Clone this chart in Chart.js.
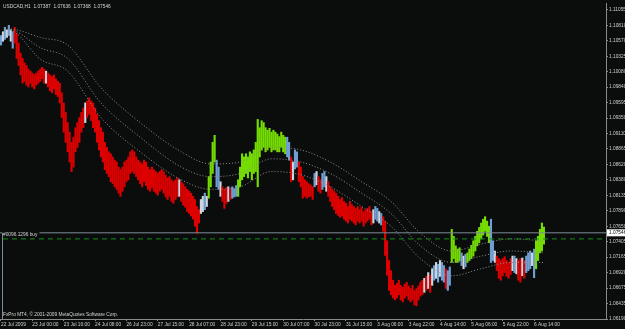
<!DOCTYPE html>
<html>
<head>
<meta charset="utf-8">
<script src="https://cdn.jsdelivr.net/npm/chart.js@4.4.1/dist/chart.umd.min.js"></script>
<style>
  html, body { margin: 0; padding: 0; background: #0b0d0d; }
  #wrap { width: 625px; height: 329px; }
</style>
</head>
<body>
<div id="wrap"><canvas id="chart" width="625" height="329"></canvas></div>
<script>
// USDCAD H1, 22 Jul - 6 Aug 2009 (FxPro MT4 screenshot)
const symbol = 'USDCAD,H1';
const lastOHLC = ['1.07387', '1.07636', '1.07368', '1.07546'];
const bidPrice = 1.07546;
const orderPrice = 1.0745;
const orderLabel = '#0096.1296 buy';
const copyright = 'FxPro MT4, \u00a9 2001-2009 MetaQuotes Software Corp.';

// one time label every 16 bars
const timeLabels = ['22 Jul 2009', '23 Jul 00:00', '23 Jul 16:00', '24 Jul 08:00', '26 Jul 23:00',
  '27 Jul 15:00', '28 Jul 07:00', '28 Jul 23:00', '29 Jul 15:00', '30 Jul 07:00', '30 Jul 23:00',
  '31 Jul 15:00', '3 Aug 06:00', '3 Aug 22:00', '4 Aug 14:00', '5 Aug 06:00', '5 Aug 22:00', '6 Aug 14:00'];

const priceLabels = ['1.11055', '1.10810', '1.10570', '1.10325', '1.10080', '1.09840', '1.09595',
  '1.09350', '1.09110', '1.08865', '1.08620', '1.08380', '1.08135', '1.07890', '1.07650', '1.07405',
  '1.07165', '1.06920', '1.06675', '1.06435', '1.06190'];

const highs = [
  1.1065, 1.1071, 1.1078, 1.1074, 1.1081, 1.1074, 1.1071, 1.1078, 1.1068, 1.1053,
  1.1037, 1.1029, 1.1022, 1.1018, 1.1012, 1.1009, 1.1006, 1.1003, 1.1006, 1.1009,
  1.1012, 1.1015, 1.1012, 1.1009, 1.1006, 1.1003, 1.1000, 1.1003, 1.0997, 1.0993,
  1.0990, 1.0975, 1.0959, 1.0944, 1.0928, 1.0913, 1.0897, 1.0905, 1.0920, 1.0928,
  1.0936, 1.0944, 1.0951, 1.0959, 1.0962, 1.0967, 1.0962, 1.0959, 1.0951, 1.0941,
  1.0931, 1.0920, 1.0913, 1.0897, 1.0889, 1.0882, 1.0879, 1.0874, 1.0869, 1.0866,
  1.0858, 1.0854, 1.0858, 1.0866, 1.0869, 1.0874, 1.0882, 1.0885, 1.0882, 1.0874,
  1.0869, 1.0866, 1.0863, 1.0869, 1.0866, 1.0858, 1.0854, 1.0858, 1.0854, 1.0851,
  1.0848, 1.0851, 1.0854, 1.0851, 1.0845, 1.0841, 1.0843, 1.0838, 1.0835, 1.0838,
  1.0841, 1.0838, 1.0835, 1.0832, 1.0827, 1.0823, 1.0820, 1.0817, 1.0812, 1.0807,
  1.0796, 1.0791, 1.0807, 1.0812, 1.0817, 1.0812, 1.0843, 1.0866, 1.0897, 1.0908,
  1.0869, 1.0858, 1.0835, 1.0827, 1.0823, 1.0826, 1.0827, 1.0824, 1.0827, 1.0824,
  1.0829, 1.0838, 1.0858, 1.0879, 1.0874, 1.0879, 1.0874, 1.0882, 1.0879, 1.0885,
  1.0897, 1.0933, 1.0920, 1.0931, 1.0928, 1.0920, 1.0916, 1.0919, 1.0913, 1.0916,
  1.0913, 1.0910, 1.0906, 1.0913, 1.0908, 1.0905, 1.0905, 1.0897, 1.0874, 1.0866,
  1.0885, 1.0882, 1.0866, 1.0858, 1.0843, 1.0838, 1.0835, 1.0832, 1.0830, 1.0827,
  1.0848, 1.0851, 1.0843, 1.0838, 1.0848, 1.0851, 1.0843, 1.0835, 1.0827, 1.0823,
  1.0820, 1.0817, 1.0812, 1.0807, 1.0810, 1.0804, 1.0801, 1.0796, 1.0804, 1.0799,
  1.0796, 1.0793, 1.0796, 1.0791, 1.0795, 1.0788, 1.0791, 1.0793, 1.0796, 1.0788,
  1.0791, 1.0796, 1.0793, 1.0788, 1.0785, 1.0780, 1.0773, 1.0742, 1.0711, 1.0695,
  1.0680, 1.0672, 1.0675, 1.0680, 1.0672, 1.0669, 1.0674, 1.0677, 1.0671, 1.0667,
  1.0672, 1.0664, 1.0667, 1.0671, 1.0677, 1.0680, 1.0683, 1.0686, 1.0692, 1.0688,
  1.0698, 1.0703, 1.0708, 1.0705, 1.0711, 1.0708, 1.0703, 1.0698, 1.0695, 1.0701,
  1.0760, 1.0749, 1.0734, 1.0729, 1.0731, 1.0723, 1.0718, 1.0721, 1.0723, 1.0729,
  1.0735, 1.0742, 1.0749, 1.0757, 1.0763, 1.0770, 1.0776, 1.0780, 1.0773, 1.0765,
  1.0776, 1.0742, 1.0726, 1.0718, 1.0714, 1.0711, 1.0714, 1.0717, 1.0711, 1.0708,
  1.0714, 1.0718, 1.0718, 1.0714, 1.0711, 1.0714, 1.0715, 1.0711, 1.0718, 1.0723,
  1.0726, 1.0723, 1.0729, 1.0742, 1.0749, 1.0760, 1.0770, 1.07636
];

const lows = [
  1.1050, 1.1056, 1.1059, 1.1062, 1.1065, 1.1056, 1.1045, 1.1053, 1.1029, 1.1018,
  1.1003, 1.0990, 1.0993, 1.0987, 1.0984, 1.0990, 1.0984, 1.0981, 1.0987, 1.0990,
  1.0993, 1.0997, 1.0990, 1.0990, 1.0984, 1.0978, 1.0975, 1.0981, 1.0972, 1.0969,
  1.0959, 1.0936, 1.0913, 1.0897, 1.0882, 1.0866, 1.0851, 1.0858, 1.0882, 1.0889,
  1.0897, 1.0913, 1.0920, 1.0928, 1.0936, 1.0941, 1.0931, 1.0920, 1.0913, 1.0897,
  1.0885, 1.0874, 1.0866, 1.0854, 1.0848, 1.0843, 1.0835, 1.0832, 1.0827, 1.0823,
  1.0817, 1.0812, 1.0820, 1.0827, 1.0835, 1.0838, 1.0848, 1.0851, 1.0848, 1.0843,
  1.0838, 1.0832, 1.0827, 1.0835, 1.0829, 1.0823, 1.0820, 1.0826, 1.0820, 1.0817,
  1.0814, 1.0820, 1.0823, 1.0817, 1.0811, 1.0807, 1.0812, 1.0804, 1.0801, 1.0807,
  1.0811, 1.0812, 1.0804, 1.0798, 1.0795, 1.0788, 1.0785, 1.0781, 1.0776, 1.0765,
  1.0754, 1.0770, 1.0785, 1.0788, 1.0791, 1.0796, 1.0809, 1.0827, 1.0848, 1.0866,
  1.0827, 1.0823, 1.0812, 1.0804, 1.0793, 1.0801, 1.0804, 1.0807, 1.0809, 1.0811,
  1.0812, 1.0812, 1.0827, 1.0838, 1.0843, 1.0848, 1.0841, 1.0851, 1.0838, 1.0848,
  1.0851, 1.0827, 1.0874, 1.0885, 1.0889, 1.0882, 1.0885, 1.0889, 1.0882, 1.0885,
  1.0885, 1.0882, 1.0882, 1.0889, 1.0882, 1.0879, 1.0874, 1.0869, 1.0835, 1.0838,
  1.0855, 1.0858, 1.0835, 1.0827, 1.0809, 1.0812, 1.0809, 1.0811, 1.0812, 1.0807,
  1.0827, 1.0830, 1.0820, 1.0817, 1.0823, 1.0827, 1.0820, 1.0812, 1.0804, 1.0796,
  1.0791, 1.0785, 1.0782, 1.0779, 1.0781, 1.0776, 1.0773, 1.0770, 1.0776, 1.0773,
  1.0770, 1.0767, 1.0773, 1.0770, 1.0773, 1.0765, 1.0770, 1.0773, 1.0776, 1.0767,
  1.0770, 1.0776, 1.0773, 1.0770, 1.0767, 1.0757, 1.0719, 1.0688, 1.0664, 1.0657,
  1.0652, 1.0649, 1.0652, 1.0657, 1.0649, 1.0646, 1.0652, 1.0655, 1.0649, 1.0646,
  1.0649, 1.0641, 1.0640, 1.0649, 1.0655, 1.0657, 1.0661, 1.0664, 1.0667, 1.0661,
  1.0672, 1.0680, 1.0683, 1.0677, 1.0686, 1.0680, 1.0677, 1.0667, 1.0664, 1.0672,
  1.0708, 1.0714, 1.0708, 1.0708, 1.0711, 1.0703, 1.0698, 1.0701, 1.0708, 1.0711,
  1.0714, 1.0718, 1.0726, 1.0734, 1.0739, 1.0745, 1.0751, 1.0757, 1.0749, 1.0739,
  1.0708, 1.0711, 1.0708, 1.0695, 1.0683, 1.0680, 1.0687, 1.0692, 1.0686, 1.0683,
  1.0689, 1.0695, 1.0692, 1.0690, 1.0680, 1.0677, 1.0687, 1.0683, 1.0692, 1.0695,
  1.0698, 1.0703, 1.0684, 1.0698, 1.0711, 1.0723, 1.0726, 1.07368
];

// bar colour per bar: r = down, g = up trend, b = blue, w = white
const kinds = (
  'bwbwbwbrrr' + 'rrrrrrrrrr' + 'rrrwrrrrrr' + 'rrrrrrrrrr' + 'rrrwrrrrrr' +
  'rrrrrrrrrr' + 'rrrrrrrrrr' + 'rrrrrrrrrr' + 'rrrrrrrrrr' + 'rwrrrrrrrr' +
  'rrwwbwgggg' + 'bbwrrrwrbb' + 'bggggggggg' + 'gggggggggg' + 'ggggggbbrw' +
  'bbrrrrrrrr' + 'bwrrbbwrrr' + 'rrrrrrrrrr' + 'rrrrrrrrrr' + 'wbbwbrrrrr' +
  'rrrrrrrrrr' + 'rrrrrrwrwr' + 'wbwbwbbrbb' + 'gggggbwbgg' + 'gggggggggg' +
  'bbwrrrrrrr' + 'rwbwrrwrbb' + 'bwbggggg').split('');

// envelope lines, read at a few bars
const envBars   = [2, 8, 20, 34, 51, 71, 92, 107, 122, 138, 153, 168, 184, 199, 214, 230, 245, 260, 277];
const envUpper  = [1.1076, 1.1074, 1.1062, 1.1050, 1.0983, 1.0928, 1.0882, 1.0863, 1.0866, 1.0889,
                   1.0885, 1.0866, 1.0835, 1.0804, 1.0754, 1.0726, 1.0737, 1.0745, 1.0742];
const envMiddle = [1.1076, 1.1071, 1.1046, 1.1029, 1.0959, 1.0905, 1.0858, 1.0843, 1.0848, 1.0871,
                   1.0866, 1.0848, 1.0817, 1.0785, 1.0734, 1.0708, 1.0718, 1.0726, 1.0723];
const envLower  = [1.1076, 1.1068, 1.1028, 1.1009, 1.0936, 1.0882, 1.0838, 1.0823, 1.0827, 1.0851,
                   1.0846, 1.0827, 1.0796, 1.0765, 1.0714, 1.0687, 1.0698, 1.0708, 1.0708];

const kindColors = { r: '#dc0000', g: '#74dc00', b: '#6f9fd2', w: '#cdd5de' };
const X_MAX = 308.7;
const FONT = '"Liberation Sans", Arial, sans-serif';

const bars = highs.map((h, i) => ({ x: i, y: [lows[i], h] }));
const envLine = vals => envBars.map((b, i) => ({ x: b, y: vals[i] }));

Chart.defaults.font.family = FONT;
Chart.defaults.font.size = 4.8;

const mt4Overlay = {
  id: 'mt4Overlay',
  beforeDraw(chart) {
    const c = chart.ctx;
    c.save();
    c.fillStyle = '#0b0d0d';
    c.fillRect(0, 0, chart.width, chart.height);
    c.restore();
  },
  afterDraw(chart) {
    const c = chart.ctx;
    const y = chart.scales.y;
    const area = chart.chartArea;
    c.save();
    c.font = '4.8px ' + FONT;
    c.fillStyle = '#d4d4d4';
    c.textBaseline = 'top';
    c.fillText(symbol + '  ' + lastOHLC.join('  '), 3, 4);

    // order line caption, sits on a dark patch over the bid line
    const oy = y.getPixelForValue(orderPrice);
    const w = c.measureText(orderLabel).width;
    c.fillStyle = '#0b0d0d';
    c.fillRect(2, oy - 7, w + 3, 6);
    c.fillStyle = '#d4d4d4';
    c.fillText(orderLabel, 3, oy - 7);

    c.textBaseline = 'bottom';
    c.fillText(copyright, 3, area.bottom - 2);

    // thin vertical marker at the left edge below the bid line
    const by = y.getPixelForValue(bidPrice);
    c.strokeStyle = '#7c8b98';
    c.lineWidth = 1;
    c.beginPath();
    c.moveTo(2.5, by);
    c.lineTo(2.5, area.bottom);
    c.stroke();

    // current bid box on the price axis
    c.fillStyle = '#ffffff';
    c.fillRect(area.right + 1, by - 3.5, chart.width - area.right, 7);
    c.fillStyle = '#000000';
    c.textBaseline = 'middle';
    c.fillText(bidPrice.toFixed(5), area.right + 3, by);
    c.restore();
  }
};

const dotted = { borderColor: '#8f8f8f', borderWidth: 1, borderDash: [1, 2], pointRadius: 0, cubicInterpolationMode: 'monotone' };

new Chart(document.getElementById('chart'), {
  type: 'bar',
  data: {
    datasets: [
      { type: 'line', data: [{ x: -0.5, y: bidPrice }, { x: X_MAX, y: bidPrice }], borderColor: '#7c8b98', borderWidth: 1, pointRadius: 0 },
      { type: 'line', data: [{ x: 1, y: orderPrice }, { x: X_MAX, y: orderPrice }], borderColor: '#15901a', borderWidth: 1, borderDash: [5, 4], pointRadius: 0 },
      { type: 'line', data: envLine(envUpper), ...dotted },
      { type: 'line', data: envLine(envMiddle), ...dotted },
      { type: 'line', data: envLine(envLower), ...dotted },
      {
        type: 'bar',
        data: bars,
        backgroundColor: kinds.map(k => kindColors[k]),
        barThickness: 1.5,
        grouped: false
      }
    ]
  },
  options: {
    responsive: false,
    animation: false,
    layout: { padding: 0 },
    plugins: { legend: { display: false }, tooltip: { enabled: false } },
    scales: {
      x: {
        type: 'linear',
        min: -0.5,
        max: X_MAX,
        offset: false,
        afterBuildTicks: s => { s.ticks = timeLabels.map((_, k) => ({ value: k * 16 })); },
        afterFit: s => { s.height = 10; },
        ticks: {
          callback: (v, i) => timeLabels[i],
          align: 'start',
          maxRotation: 0,
          autoSkip: false,
          color: '#cfcfcf',
          padding: 1
        },
        grid: { drawOnChartArea: false, offset: false, tickLength: 2, color: '#8a8a8a' },
        border: { color: '#8a8a8a' }
      },
      y: {
        position: 'right',
        min: 1.06190,
        max: 1.11148,
        afterBuildTicks: s => { s.ticks = priceLabels.map(p => ({ value: parseFloat(p) })); },
        afterFit: s => { s.width = 19; },
        ticks: {
          callback: (v, i) => priceLabels[i],
          autoSkip: false,
          color: '#cfcfcf',
          padding: 1
        },
        grid: { drawOnChartArea: false, tickLength: 2, color: '#8a8a8a' },
        border: { color: '#8a8a8a' }
      }
    }
  },
  plugins: [mt4Overlay]
});
</script>
</body>
</html>
